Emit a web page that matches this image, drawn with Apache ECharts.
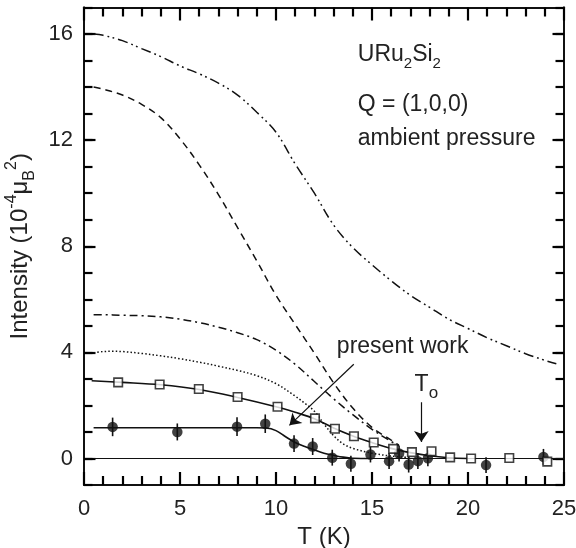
<!DOCTYPE html>
<html>
<head>
<meta charset="utf-8">
<script src="https://cdn.jsdelivr.net/npm/echarts@6/dist/echarts.min.js"></script>
<style>html,body{margin:0;padding:0;background:#fff}#c{width:576px;height:548px}</style>
</head>
<body>
<div id="c"></div>
<script>
// ---- data ----
const xTicks = [0, 5, 10, 15, 20, 25];
const yTicks = [0, 4, 8, 12, 16];

// dash-dot-dot curve (top)
const ddT = [0.5, 1, 2, 3, 4, 5, 6, 7, 8, 9, 10, 11, 12, 13, 14, 15, 16, 17, 18, 19, 20, 21, 22, 23, 24, 24.6];
const ddI = [16.0, 15.95, 15.75, 15.45, 15.15, 14.8, 14.5, 14.15, 13.7, 13.05, 12.3, 11.1, 10.0, 8.8, 7.95, 7.3, 6.7, 6.15, 5.7, 5.25, 4.9, 4.55, 4.25, 3.95, 3.7, 3.57];
// dashed curve
const dashT = [0.5, 1, 2, 3, 4, 5, 6, 7, 8, 9, 10, 11, 12, 13, 14, 15, 16, 16.4];
const dashI = [14.0, 13.92, 13.7, 13.35, 12.85, 12.05, 11.07, 9.95, 8.7, 7.45, 6.15, 5.05, 3.97, 2.85, 1.9, 1.17, 0.69, 0.5];
// dash-dot curve
const dotDashT = [0.5, 1, 2, 3, 4, 5, 6, 7, 8, 9, 10, 11, 12, 13, 14, 15, 16, 16.4];
const dotDashI = [5.42, 5.42, 5.4, 5.38, 5.34, 5.25, 5.12, 4.95, 4.74, 4.48, 4.08, 3.55, 2.9, 2.25, 1.65, 1.1, 0.64, 0.48];
// dotted curve
const dotT = [0.5, 1, 1.5, 2, 3, 4, 5, 6, 7, 8, 9, 10, 11, 11.5, 12, 12.5, 13, 13.5, 14, 15, 16, 17];
const dotI = [3.98, 4.03, 4.04, 4.03, 3.96, 3.87, 3.76, 3.63, 3.48, 3.32, 3.12, 2.82, 2.35, 2.08, 1.78, 1.3, 0.86, 0.55, 0.38, 0.2, 0.09, 0.03];
// open squares and their fit
const sqT = [1.78, 3.94, 5.98, 8.0, 10.08, 12.03, 13.07, 14.06, 15.09, 16.1, 17.08, 18.1, 19.07, 20.16, 22.15, 24.13];
const sqI = [2.87, 2.79, 2.62, 2.32, 1.95, 1.51, 1.12, 0.84, 0.6, 0.36, 0.24, 0.27, 0.04, 0.0, 0.02, -0.12];
const sqFitT = [0.4, 2, 4, 6, 8, 10, 11, 12, 13, 14, 15, 16, 17, 18, 19, 20];
const sqFitI = [2.93, 2.87, 2.78, 2.6, 2.3, 1.95, 1.74, 1.5, 1.15, 0.85, 0.6, 0.38, 0.22, 0.1, 0.03, 0];
// filled circles (present work), error bars and fit
const ciT = [1.49, 4.86, 7.97, 9.44, 10.94, 11.91, 12.93, 13.9, 14.92, 15.89, 16.41, 16.91, 17.39, 17.91, 20.94, 23.93];
const ciI = [1.19, 1.0, 1.2, 1.31, 0.56, 0.45, 0.03, -0.2, 0.15, -0.1, 0.19, -0.23, -0.1, 0.01, -0.25, 0.06];
const ciErr = [0.35, 0.32, 0.35, 0.35, 0.32, 0.32, 0.3, 0.3, 0.3, 0.3, 0.3, 0.3, 0.3, 0.3, 0.3, 0.3];
const ciFitT = [0.5, 2, 4, 6, 8, 9, 9.5, 10, 10.5, 11, 11.5, 12, 12.5, 13, 13.5, 14, 15];
const ciFitI = [1.16, 1.16, 1.16, 1.16, 1.16, 1.16, 1.15, 1.05, 0.82, 0.6, 0.45, 0.32, 0.2, 0.12, 0.05, 0.01, 0];
// zero line
const zeroT = [0.5, 25];
const zeroI = [0, 0];
// arrows (data coordinates)
const arrowWork = [[14.05, 3.55], [10.7, 1.25]];
const arrowTo = [[17.57, 2.12], [17.57, 0.62]];

// ---- styling ----
const F = '"Liberation Sans", Arial, Helvetica, sans-serif';
const ink = '#111';
const txt = '#222';
const X_MIN = 0, X_MAX = 25, Y_MIN = -1, Y_MAX = 17;

const chart = echarts.init(document.getElementById('c'), null, {renderer: 'canvas'});
const pairs = (xs, ys) => xs.map((x, i) => [x, ys[i]]);
function curve(name, xs, ys, dash, width, smooth) {
  return {
    id: name, type: 'line', name, data: pairs(xs, ys), symbol: 'none', smooth: smooth,
    lineStyle: {color: ink, width: width, type: dash}, silent: true, z: 2
  };
}
const axLine = () => ({show: true, onZero: false, lineStyle: {color: ink, width: 2}});
function xAx(pos, labels) {
  return {
    type: 'value', position: pos, min: X_MIN, max: X_MAX, interval: 5,
    axisLine: axLine(),
    axisTick: {show: true, inside: true, length: 13, lineStyle: {color: '#000', width: 2.2}},
    minorTick: {show: true, splitNumber: 5, length: 9, lineStyle: {color: '#000', width: 2.2}},
    splitLine: {show: false}, minorSplitLine: {show: false},
    axisLabel: labels ? {show: true, margin: 13, fontSize: 22, fontFamily: F, color: txt} : {show: false},
    name: labels ? 'T (K)' : '', nameLocation: 'middle', nameGap: 27,
    nameTextStyle: {fontSize: 24, fontFamily: F, color: txt}
  };
}
function yMinorAx(pos, labels) {
  return {
    type: 'value', position: pos, min: Y_MIN, max: Y_MAX, interval: 1,
    axisLine: axLine(),
    axisTick: {show: true, inside: true, length: 8.5, lineStyle: {color: '#000', width: 2.2}},
    splitLine: {show: false},
    axisLabel: labels ? {show: true, margin: 11, fontSize: 22, fontFamily: F, color: txt,
      formatter: v => (yTicks.indexOf(Math.round(v * 1000) / 1000) >= 0 ? String(v) : '')} : {show: false},
    name: labels ? 'Intensity (10{sup|-4}\u03bc{sub|B}{sup|2})' : '',
    nameLocation: 'middle', nameRotate: 90, nameGap: 46,
    nameTextStyle: {
      fontSize: 24, fontFamily: F, color: txt, lineHeight: 34,
      rich: {
        sup: {fontSize: 16, fontFamily: F, color: txt, verticalAlign: 'top', lineHeight: 16},
        sub: {fontSize: 16, fontFamily: F, color: txt, verticalAlign: 'bottom', lineHeight: 16}
      }
    }
  };
}
function yMajorAx(pos) {
  return {
    type: 'value', position: pos, min: Y_MIN, max: Y_MAX,
    axisLine: axLine(),
    axisTick: {show: true, inside: true, length: 11.5, customValues: yTicks, lineStyle: {color: '#000', width: 2.2}},
    splitLine: {show: false}, axisLabel: {show: false}
  };
}

const option = {
  animation: false,
  grid: {left: 84, right: 12, top: 7.5, bottom: 63, outerBoundsMode: 'none'},
  xAxis: [xAx('bottom', true), xAx('top', false)],
  yAxis: [yMinorAx('left', true), yMajorAx('left'), yMinorAx('right', false), yMajorAx('right')],
  series: [
    curve('zero', zeroT, zeroI, 'solid', 1.1, false),
    curve('dashdotdot', ddT, ddI, [10, 4, 1.8, 3.5, 1.8, 4], 1.5, 0.35),
    curve('dashed', dashT, dashI, [7, 5], 1.5, 0.35),
    curve('dashdot', dotDashT, dotDashI, [8, 4, 2, 4], 1.5, 0.35),
    curve('dotted', dotT, dotI, [1.5, 2.2], 1.5, 0.35),
    curve('sqfit', sqFitT, sqFitI, 'solid', 1.6, 0.35),
    curve('cifit', ciFitT, ciFitI, 'solid', 1.6, 0.35),
    {
      id: 'errors', type: 'custom', name: 'errors', z: 3, silent: true,
      data: ciT.map((t, i) => [t, ciI[i], ciErr[i]]),
      encode: {x: 0, y: 1},
      renderItem: (params, api) => {
        const x = api.value(0), y = api.value(1), e = api.value(2);
        const a = api.coord([x, y - e]), b = api.coord([x, y + e]);
        return {type: 'line', shape: {x1: a[0], y1: a[1], x2: b[0], y2: b[1]},
          style: {stroke: ink, lineWidth: 1.6}};
      }
    },
    {
      id: 'circles', type: 'scatter', name: 'circles', data: pairs(ciT, ciI), symbol: 'circle', symbolSize: 10.5,
      itemStyle: {color: ink}, z: 4, silent: true
    },
    {
      id: 'squares', type: 'scatter', name: 'squares', data: pairs(sqT, sqI), symbol: 'rect', symbolSize: 8.5,
      itemStyle: {color: '#fff', borderColor: ink, borderWidth: 1.6}, z: 5, silent: true
    },
    {
      id: 'arrows', type: 'lines', coordinateSystem: 'cartesian2d', silent: true, z: 6,
      symbol: ['none', 'arrow'], symbolSize: 11,
      lineStyle: {color: ink, width: 1.2, opacity: 1},
      data: [{coords: arrowWork}, {coords: arrowTo}]
    }
  ]
};
chart.setOption(option);

const toPx = v => chart.convertToPixel({xAxisIndex: 0, yAxisIndex: 0}, v);

// text annotations anchored at data coordinates
const notes = [
  {text: 'URu{s|2}Si{s|2}', at: [14.26, 15.22]},
  {text: 'Q = (1,0,0)', at: [14.26, 13.33]},
  {text: 'ambient pressure', at: [14.26, 12.05]},
  {text: 'present work', at: [13.17, 4.22]},
  {text: 'T{o|o}', at: [17.22, 2.79]}
];
const graphic = notes.map(n => {
  const p = toPx(n.at);
  return {
    type: 'text', x: p[0], y: p[1], z: 10,
    style: {
      text: n.text, fill: txt, fontSize: 23, fontFamily: F, lineHeight: 34,
      verticalAlign: 'middle', align: 'left',
      rich: {
        s: {fontSize: 15, fontFamily: F, fill: txt, verticalAlign: 'bottom', lineHeight: 15},
        o: {fontSize: 17, fontFamily: F, fill: txt, verticalAlign: 'bottom', lineHeight: 17}
      }
    }
  };
});
chart.setOption({graphic: graphic});
</script>
</body>
</html>
